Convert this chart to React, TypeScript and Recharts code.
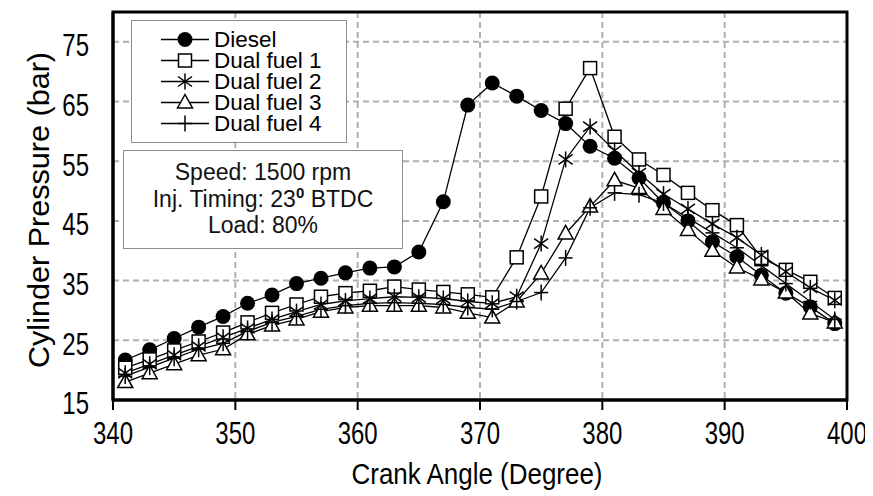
import React from 'react'
import { LineChart, Line, XAxis, YAxis, CartesianGrid, ReferenceArea } from 'recharts'

// crank angle (deg) at each sample
const angles = [341, 343, 345, 347, 349, 351, 353, 355, 357, 359, 361, 363, 365, 367, 369, 371, 373, 375, 377, 379, 381, 383, 385, 387, 389, 391, 393, 395, 397, 399]

// cylinder pressure (bar)
const diesel = [21.7, 23.4, 25.3, 27.2, 29.0, 31.2, 32.6, 34.5, 35.4, 36.3, 37.1, 37.3, 39.8, 48.2, 64.4, 68.1, 65.9, 63.5, 61.3, 57.5, 55.5, 52.2, 48.0, 45.0, 41.5, 39.0, 35.9, 32.9, 30.6, 27.8]
const dualFuel1 = [20.4, 21.8, 23.3, 24.8, 26.3, 28.0, 29.6, 31.0, 32.3, 32.9, 33.3, 34.0, 33.5, 33.1, 32.7, 32.2, 38.9, 49.1, 63.8, 70.6, 59.1, 55.3, 52.7, 49.7, 46.8, 44.3, 38.8, 36.8, 34.8, 32.1]
const dualFuel2 = [19.5, 21.0, 22.5, 24.0, 25.5, 27.0, 28.5, 29.8, 31.0, 31.6, 32.0, 32.3, 32.2, 32.0, 31.5, 31.2, 32.3, 41.2, 55.3, 60.8, 56.8, 53.0, 49.5, 47.0, 44.5, 42.2, 39.3, 36.5, 33.8, 31.7]
const dualFuel3 = [18.0, 19.5, 21.0, 22.5, 23.5, 26.0, 27.5, 28.5, 29.8, 30.5, 30.8, 30.8, 30.8, 30.5, 29.6, 28.8, 31.5, 36.2, 42.9, 47.4, 51.8, 50.5, 47.0, 43.5, 40.0, 37.2, 35.2, 33.0, 29.5, 28.0]
const dualFuel4 = [19.0, 20.5, 22.0, 23.5, 24.5, 26.5, 28.0, 29.0, 30.2, 30.8, 31.2, 31.3, 31.2, 31.0, 30.5, 30.2, 31.5, 33.0, 38.8, 47.2, 49.7, 49.4, 48.0, 45.5, 43.0, 40.5, 37.5, 34.5, 31.5, 28.5]

const xTicks = [340, 350, 360, 370, 380, 390, 400]
const yTicks = [15, 25, 35, 45, 55, 65, 75]
const xMinorTicks = Array.from({ length: 31 }, (_, i) => 340 + i * 2)
const yMinorTicks = Array.from({ length: 40 }, (_, i) => 15 + (i * 10) / 6)

const textFont = "'Liberation Sans', Arial, sans-serif"

type MarkerKind = 'circle' | 'square' | 'star' | 'triangle' | 'plus'

function Marker({ kind, cx, cy }: { kind: MarkerKind; cx: number; cy: number }) {
  const s = { stroke: '#000', strokeWidth: 1.5 }
  switch (kind) {
    case 'circle':
      return <circle cx={cx} cy={cy} r={7.5} fill="#000" />
    case 'square':
      return <rect x={cx - 6.5} y={cy - 6.5} width={13} height={13} fill="#fff" {...s} />
    case 'star':
      return (
        <g {...s}>
          <line x1={cx} y1={cy - 8} x2={cx} y2={cy + 8} />
          <line x1={cx - 7} y1={cy - 5} x2={cx + 7} y2={cy + 5} />
          <line x1={cx - 7} y1={cy + 5} x2={cx + 7} y2={cy - 5} />
        </g>
      )
    case 'triangle':
      return <polygon points={`${cx},${cy - 8} ${cx - 7.5},${cy + 5.5} ${cx + 7.5},${cy + 5.5}`} fill="#fff" {...s} />
    default:
      return (
        <g {...s}>
          <line x1={cx} y1={cy - 8} x2={cx} y2={cy + 8} />
          <line x1={cx - 7} y1={cy} x2={cx + 7} y2={cy} />
        </g>
      )
  }
}

const series: { key: string; name: string; values: number[]; marker: MarkerKind }[] = [
  { key: 'diesel', name: 'Diesel', values: diesel, marker: 'circle' },
  { key: 'df1', name: 'Dual fuel 1', values: dualFuel1, marker: 'square' },
  { key: 'df2', name: 'Dual fuel 2', values: dualFuel2, marker: 'star' },
  { key: 'df3', name: 'Dual fuel 3', values: dualFuel3, marker: 'triangle' },
  { key: 'df4', name: 'Dual fuel 4', values: dualFuel4, marker: 'plus' },
]

const rows = angles.map((angle, i) => {
  const row: Record<string, number> = { angle }
  series.forEach((s) => (row[s.key] = s.values[i]))
  return row
})

// tick numbers are stretched vertically
function XTick({ x, y, payload }: any) {
  return (
    <g transform={`translate(${x},${y}) scale(1,1.33)`}>
      <text x={0} y={0} dy="0.71em" textAnchor="middle" fontSize={24} fontFamily={textFont} fill="#000">
        {payload.value}
      </text>
    </g>
  )
}

function YTick({ x, y, payload }: any) {
  return (
    <g transform={`translate(${x},${y + 3}) scale(1,1.33)`}>
      <text x={0} y={0} dy="0.355em" textAnchor="end" fontSize={24} fontFamily={textFont} fill="#000">
        {payload.value}
      </text>
    </g>
  )
}

function XTitle({ viewBox }: any) {
  const { x, y, width, height } = viewBox
  return (
    <text
      x={x + width / 2 - 3}
      y={y + height - 12}
      textAnchor="middle"
      fontSize={30}
      fontFamily={textFont}
      fill="#000"
      textLength={251}
      lengthAdjust="spacingAndGlyphs"
    >
      Crank Angle (Degree)
    </text>
  )
}

function YTitle({ viewBox }: any) {
  const { y, height } = viewBox
  const cx = 31
  const cy = y + height / 2 + 4
  return (
    <text
      x={cx}
      y={cy}
      transform={`rotate(-90, ${cx}, ${cy})`}
      textAnchor="middle"
      dy="0.36em"
      fontSize={29}
      fontFamily={textFont}
      fill="#000"
      textLength={316}
      lengthAdjust="spacingAndGlyphs"
    >
      Cylinder Pressure (bar)
    </text>
  )
}

function LegendBox() {
  return (
    <div
      style={{
        position: 'absolute', left: 123, top: 12, width: 214, height: 121,
        border: '1.5px solid #8c8c8c', background: '#fff', fontFamily: textFont,
      }}
    >
      {series.map((s, i) => (
        <div key={s.key} style={{ position: 'absolute', left: 0, top: 8 + i * 21, height: 21, width: '100%' }}>
          <svg width={50} height={21} style={{ position: 'absolute', left: 29, top: 0 }}>
            <line x1={0} y1={10.5} x2={48} y2={10.5} stroke="#000" strokeWidth={1.3} />
            <Marker kind={s.marker} cx={24} cy={10.5} />
          </svg>
          <span style={{ position: 'absolute', left: 82, top: 0, fontSize: 22.5, lineHeight: '21px', color: '#000', whiteSpace: 'nowrap' }}>
            {s.name}
          </span>
        </div>
      ))}
    </div>
  )
}

function InfoBox() {
  return (
    <div
      style={{
        position: 'absolute', left: 115, top: 142, width: 280, height: 99,
        border: '1.5px solid #8c8c8c', background: '#fff', fontFamily: textFont,
        fontSize: 23, lineHeight: '26.5px', textAlign: 'center', paddingTop: 8, boxSizing: 'border-box', color: '#111',
      }}
    >
      <div>Speed: 1500 rpm</div>
      <div>
        Inj. Timing: 23<sup style={{ fontSize: 15, lineHeight: 0, fontWeight: 'bold' }}>0</sup> BTDC
      </div>
      <div>Load: 80%</div>
    </div>
  )
}

export default function App() {
  return (
    <div style={{ position: 'relative', width: 865, height: 488 }}>
      <LineChart width={865} height={488} data={rows} margin={{ top: 4, right: 26, bottom: 0, left: 0 }}>
        <CartesianGrid
          stroke="#b0b0b0"
          strokeWidth={2}
          strokeDasharray="6 4"
          horizontalValues={[25, 35, 45, 55, 65, 75]}
          verticalValues={[350, 360, 370, 380, 390]}
        />
        <XAxis
          dataKey="angle"
          type="number"
          domain={[340, 400]}
          ticks={xTicks}
          allowDataOverflow
          height={96}
          tickSize={10}
          tickMargin={11}
          axisLine={{ stroke: '#000', strokeWidth: 3 }}
          tickLine={{ stroke: '#000', strokeWidth: 2 }}
          tick={<XTick />}
          label={{ content: <XTitle /> }}
        />
        <XAxis
          xAxisId="minor"
          type="number"
          domain={[340, 400]}
          ticks={xMinorTicks}
          mirror
          tick={false}
          axisLine={false}
          tickSize={7}
          tickLine={{ stroke: '#000', strokeWidth: 2 }}
        />
        <YAxis
          type="number"
          domain={[15, 80]}
          ticks={yTicks}
          allowDataOverflow
          width={105}
          tickSize={0}
          tickMargin={24}
          tickLine={false}
          axisLine={{ stroke: '#000', strokeWidth: 3 }}
          tick={<YTick />}
          label={{ content: <YTitle /> }}
        />
        <YAxis
          yAxisId="minor"
          type="number"
          domain={[15, 80]}
          ticks={yMinorTicks}
          mirror
          tick={false}
          axisLine={false}
          tickSize={7}
          tickLine={{ stroke: '#000', strokeWidth: 2 }}
        />
        {series.map((s) => (
          <Line
            key={s.key}
            dataKey={s.key}
            name={s.name}
            type="linear"
            stroke="#000"
            strokeWidth={1.3}
            isAnimationActive={false}
            dot={(p: any) => (
              <Marker key={`${s.key}-${p.index}`} kind={s.marker} cx={p.cx} cy={p.cy} />
            )}
            activeDot={false}
          />
        ))}
        <ReferenceArea x1={340} x2={400} y1={15} y2={80} fill="none" stroke="#000" strokeWidth={3} ifOverflow="visible" />
      </LineChart>
      <LegendBox />
      <InfoBox />
    </div>
  )
}
